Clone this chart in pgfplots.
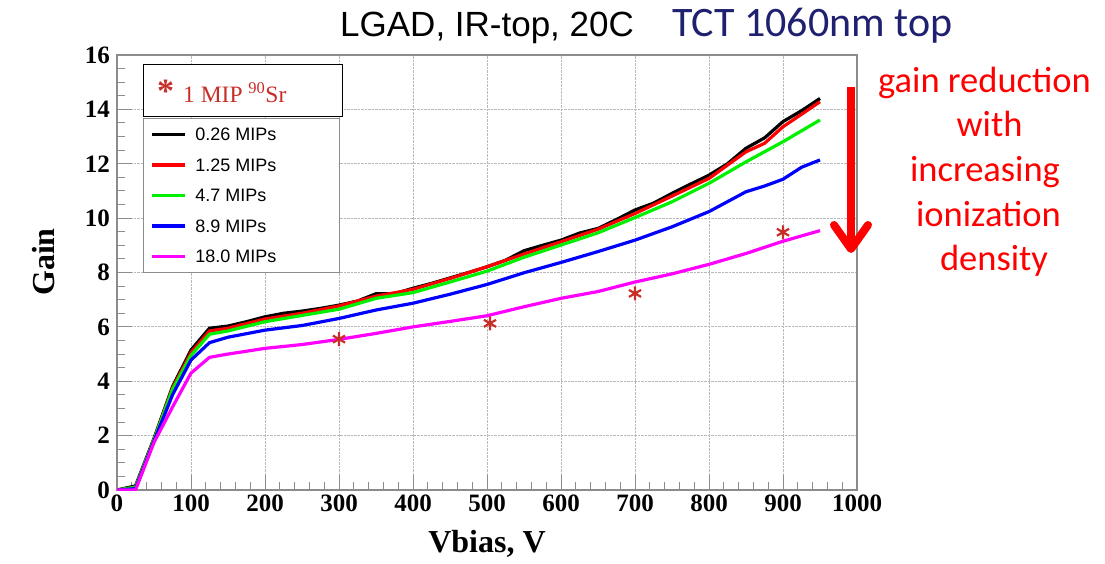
\documentclass[border=0pt]{standalone}
\usepackage{fontspec}
\setmainfont{Liberation Serif}
\newfontfamily\arialf{Liberation Sans}
\newfontfamily\calibrif{Carlito}
\usepackage{pgfplots}
\pgfplotsset{compat=1.18}
\usetikzlibrary{arrows.meta}
\definecolor{starred}{RGB}{200,45,40}
\definecolor{navy}{RGB}{32,32,112}
\definecolor{framegray}{RGB}{140,140,140}
\definecolor{ggreen}{RGB}{0,240,0}
\definecolor{gmag}{RGB}{255,0,255}
\begin{document}
\begin{tikzpicture}[x=1pt,y=1pt]
\useasboundingbox (0,0) rectangle (1105,563);
\begin{axis}[
 at={(117pt,73pt)}, anchor=south west,
 scale only axis, width=740pt, height=435pt,
 xmin=0,xmax=1000,ymin=0,ymax=16,
 xtick={0,100,...,1000}, ytick={0,2,...,16},
 minor x tick num=4, minor y tick num=3,
 xtick pos=left, ytick pos=left,
 tick align=inside,
 major tick length=15pt, minor tick length=8pt,
 tick style={framegray, line width=1pt},
 axis line style={framegray, line width=1.2pt},
 grid=major, grid style={densely dotted, gray!55, line width=0.8pt},
 /pgf/number format/assume math mode=true,
 /pgf/number format/1000 sep={},
 ticklabel style={font=\fontsize{25}{25}\selectfont\bfseries},
 yticklabel style={inner xsep=0pt, xshift=-7pt},
 xticklabel style={yshift=-1pt},
 xlabel={Vbias, V},
 xlabel style={at={(axis description cs:0.5,0)}, anchor=base, yshift=-62pt, font=\fontsize{32}{32}\selectfont\bfseries},
 ylabel={Gain},
 ylabel style={at={(axis description cs:-0.0986,0.524)}, anchor=center, font=\fontsize{32}{32}\selectfont\bfseries},
 legend image code/.code={\draw[#1, line width=3.2pt] (0pt,0pt) -- (33pt,0pt);},
 legend cell align=left,
 legend style={at={(axis description cs:0.0446,0.8529)}, anchor=north west, draw=none, fill=none,
   inner sep=0pt, row sep=0pt, column sep=9pt, font=\arialf\fontsize{18}{18}\selectfont,
   nodes={inner xsep=0pt, inner ysep=8.75pt, text height=13pt, text depth=0pt}},
]
\draw[framegray, line width=1pt, fill=white] (axis description cs:0.03514,0.85287) rectangle (axis description cs:0.30135,0.50115);
\addplot[black, line width=3.2pt] coordinates {
(0,0) (25,0.15) (50,1.9) (75,3.8) (100,5.15) (125,5.95) (150,6.03) (175,6.19) (200,6.37) (225,6.5) (250,6.58) (275,6.68) (300,6.8) (325,6.95) (350,7.22) (375,7.22) (400,7.42) (425,7.6) (450,7.8) (475,8.0) (500,8.21) (525,8.45) (550,8.8) (575,9.0) (600,9.19) (625,9.45) (650,9.62) (675,9.95) (700,10.3) (725,10.55) (750,10.91) (775,11.25) (800,11.58) (825,12.0) (850,12.57) (875,12.95) (900,13.55) (925,13.95) (950,14.4)};
\addlegendentry{0.26 MIPs}
\addplot[red, line width=3.2pt] coordinates {
(0,0) (25,0.1) (50,1.85) (75,3.75) (100,5.05) (125,5.85) (150,5.95) (200,6.29) (250,6.5) (300,6.77) (350,7.13) (400,7.38) (450,7.78) (500,8.21) (550,8.68) (600,9.13) (650,9.59) (700,10.17) (750,10.81) (800,11.46) (850,12.44) (875,12.75) (900,13.36) (950,14.28)};
\addlegendentry{1.25 MIPs}
\addplot[ggreen, line width=3.2pt] coordinates {
(0,0) (25,0.1) (50,1.85) (75,3.7) (100,4.95) (125,5.73) (150,5.85) (200,6.19) (250,6.42) (300,6.65) (350,7.05) (400,7.26) (450,7.65) (500,8.05) (550,8.56) (600,9.01) (650,9.46) (700,10.02) (750,10.6) (800,11.28) (850,12.07) (900,12.81) (950,13.61)};
\addlegendentry{4.7 MIPs}
\addplot[blue, line width=3.2pt] coordinates {
(0,0) (25,0.05) (50,1.8) (75,3.5) (100,4.78) (125,5.42) (150,5.62) (200,5.88) (250,6.05) (300,6.31) (350,6.62) (400,6.87) (450,7.2) (500,7.56) (550,7.99) (600,8.37) (650,8.77) (700,9.19) (750,9.68) (800,10.24) (850,10.97) (875,11.18) (900,11.43) (925,11.87) (950,12.14)};
\addlegendentry{8.9 MIPs}
\addplot[gmag, line width=3.2pt] coordinates {
(0,0) (25,0) (50,1.75) (75,3.05) (100,4.3) (125,4.88) (150,5.0) (200,5.21) (250,5.35) (300,5.54) (350,5.76) (400,6.0) (450,6.2) (500,6.41) (550,6.74) (600,7.05) (650,7.3) (700,7.65) (750,7.95) (800,8.3) (850,8.7) (900,9.15) (950,9.54)};
\addlegendentry{18.0 MIPs}
\addplot[only marks, mark=asterisk, mark size=7pt, starred, line width=2.2pt, forget plot] coordinates {
(300,5.55) (504,6.13) (700,7.23) (900,9.48)};
\end{axis}
% first legend box
\draw[black, line width=1pt, fill=white] (143,446) rectangle (342,498);
\node[anchor=base west, inner sep=0pt, starred, font=\fontsize{34}{34}\selectfont\bfseries] at (157,460) {*};
\node[anchor=base west, inner sep=0pt, starred, font=\fontsize{23.5}{23.5}\selectfont] at (183,460) {1 MIP \textsuperscript{90}Sr};
% title
\node[anchor=base west, inner sep=0pt, font=\arialf\fontsize{35}{35}\selectfont] at (340,526) {LGAD, IR-top, 20C};
\node[anchor=base west, inner sep=0pt, navy, font=\calibrif\fontsize{42}{42}\selectfont] at (672,526) {TCT 1060nm top};
% annotation
\draw[red, line width=8pt, -{Straight Barb[length=24pt, width=34pt, round]}] (851,476) -- (851,310);
\begin{scope}[red, font=\calibrif\fontsize{36.5}{36.5}\selectfont]
\node[anchor=base, inner sep=0pt] at (984.5,470) {gain reduction};
\node[anchor=base, inner sep=0pt] at (989.5,426) {with};
\node[anchor=base, inner sep=0pt] at (985,381) {increasing};
\node[anchor=base, inner sep=0pt] at (988.5,336) {ionization};
\node[anchor=base, inner sep=0pt] at (994,292) {density};
\end{scope}
\end{tikzpicture}
\end{document}
